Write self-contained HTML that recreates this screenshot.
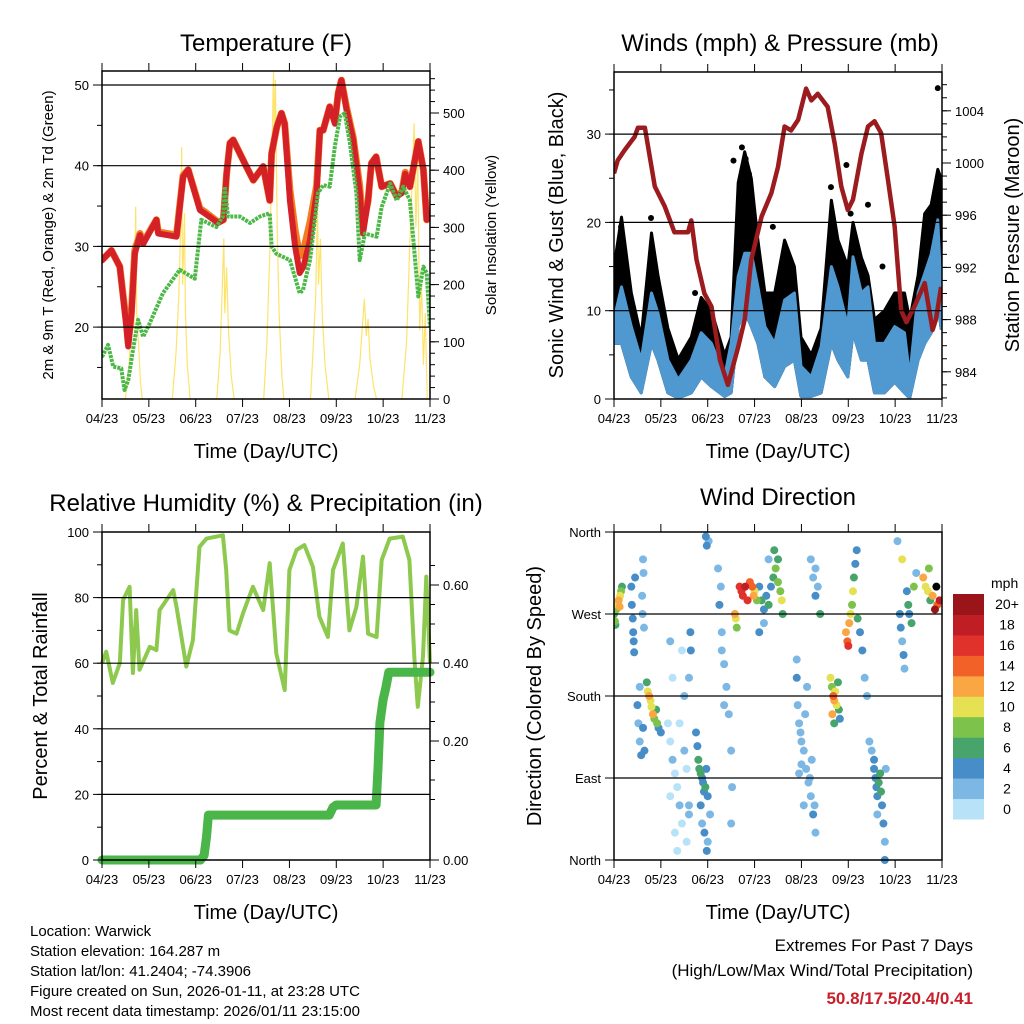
<!DOCTYPE html>
<html><head><meta charset="utf-8">
<style>
html,body{margin:0;padding:0;background:#fff;}
svg{display:block;font-family:"Liberation Sans",Arial,sans-serif;}
</style></head>
<body>
<svg id="chart" width="1024" height="1024" viewBox="0 0 1024 1024" xmlns="http://www.w3.org/2000/svg">
<rect x="0" y="0" width="1024" height="1024" fill="#fff"/>
<text x="266" y="51" font-size="24" text-anchor="middle">Temperature (F)</text>
<text x="780" y="51" font-size="24" text-anchor="middle">Winds (mph) &amp; Pressure (mb)</text>
<text x="266" y="511" font-size="24" text-anchor="middle">Relative Humidity (%) &amp; Precipitation (in)</text>
<text x="778" y="505" font-size="24" text-anchor="middle">Wind Direction</text>
<text x="266" y="458" font-size="20" text-anchor="middle">Time (Day/UTC)</text>
<text x="778" y="458" font-size="20" text-anchor="middle">Time (Day/UTC)</text>
<text x="266" y="919" font-size="20" text-anchor="middle">Time (Day/UTC)</text>
<text x="778" y="919" font-size="20" text-anchor="middle">Time (Day/UTC)</text>
<text transform="translate(53,235) rotate(-90)" font-size="15" text-anchor="middle">2m &amp; 9m T (Red, Orange) &amp; 2m Td (Green)</text>
<text transform="translate(496,235) rotate(-90)" font-size="15" text-anchor="middle">Solar Insolation (Yellow)</text>
<text transform="translate(563,235) rotate(-90)" font-size="20" text-anchor="middle">Sonic Wind &amp; Gust (Blue, Black)</text>
<text transform="translate(1019,235) rotate(-90)" font-size="20" text-anchor="middle">Station Pressure (Maroon)</text>
<text transform="translate(47,696) rotate(-90)" font-size="20" text-anchor="middle">Percent &amp; Total Rainfall</text>
<text transform="translate(541,696) rotate(-90)" font-size="20" text-anchor="middle">Direction (Colored By Speed)</text>
<g font-size="15">
<text x="30" y="936">Location: Warwick</text>
<text x="30" y="956">Station elevation: 164.287 m</text>
<text x="30" y="976">Station lat/lon: 41.2404; -74.3906</text>
<text x="30" y="996">Figure created on Sun, 2026-01-11, at 23:28 UTC</text>
<text x="30" y="1016">Most recent data timestamp: 2026/01/11 23:15:00</text>
</g>
<g text-anchor="end">
<text x="973" y="951" font-size="17">Extremes For Past 7 Days</text>
<text x="973" y="976" font-size="17">(High/Low/Max Wind/Total Precipitation)</text>
<text x="973" y="1004" font-size="17" font-weight="bold" fill="#c8202b">50.8/17.5/20.4/0.41</text>
</g>
<g id="layer"></g>
</svg>
<script>
// ---- data ----
const xTickLabels = ["04/23","05/23","06/23","07/23","08/23","09/23","10/23","11/23"];
const tempDays = [0,0.2,0.38,0.52,0.56,0.63,0.7,0.81,0.88,1.16,1.2,1.59,1.73,1.84,2.09,2.19,2.48,2.59,2.66,2.73,2.8,3.08,3.23,3.44,3.58,3.62,3.73,3.83,3.9,4.01,4.12,4.22,4.3,4.44,4.58,4.65,4.72,4.86,4.97,5.04,5.11,5.22,5.36,5.5,5.57,5.68,5.75,5.85,5.97,6.15,6.29,6.4,6.47,6.57,6.75,6.86,6.93,7];
const tempRed = [28.3,29.5,27.5,20,17.6,21.7,29.1,31.4,30.3,33.3,31.6,31.2,38.6,39.5,34.5,34.1,32.9,33.3,39,42.8,43.2,39.9,38.2,39.9,35.7,41.5,44.8,46.5,45.2,35.7,30,26.7,27.5,30.8,36.6,44.4,44.4,47.3,45.2,49,50.6,46.9,43.2,36.6,31.6,35.7,40.3,41.1,37.4,37.8,36.2,36.6,39,37.4,43,39.5,33.3,34.1];
const tempOrange = [28.3,29.5,27.5,20.5,18,22,29.5,31.6,30.5,33.3,31.8,31.4,38.8,39.5,34.7,34.3,33,33.3,39,42.8,43.2,39.9,38.2,39.9,35.7,41.5,44.8,46.5,45.2,37,32,28.8,29.5,33,37.5,44.4,44.4,47.3,45.5,49,50.6,47.2,43.5,37.5,32.5,35.7,40.3,41.1,37.4,37.8,36.2,36.8,39.2,37.4,43,39.5,33.3,34.1];
const dewDays = [0,0.13,0.24,0.41,0.48,0.56,0.66,0.77,0.88,1.02,1.3,1.66,1.98,2.12,2.44,2.58,2.62,2.69,2.94,3.16,3.37,3.58,3.62,3.72,4.01,4.22,4.29,4.44,4.61,4.72,4.86,4.97,5.08,5.18,5.29,5.43,5.5,5.61,5.86,5.97,6.15,6.29,6.43,6.57,6.75,6.86,6.93,7];
const dewPoint = [16.3,17.8,15.1,14.9,12.2,13.4,17.1,20.9,18.8,20.5,24.2,27.1,26,33.3,32.4,33.7,37.4,33.7,33.7,32.9,33.7,34.1,30,29.1,28.3,24.2,24.6,28.3,36.6,37.6,37.4,42.4,46.1,46.5,42.8,36.6,28.3,31.6,31.2,34.9,37.8,35.7,37.4,35.7,23.8,27.5,26.7,20];
const solarDays = [0,0.5,0.58,0.62,0.66,0.68,0.7,0.72,0.74,0.78,0.82,0.86,1.5,1.58,1.64,1.68,1.7,1.72,1.76,1.78,1.82,1.88,2.45,2.52,2.56,2.6,2.62,2.66,2.7,2.76,2.82,3.45,3.52,3.58,3.62,3.66,3.68,3.7,3.74,3.78,3.84,3.88,4.45,4.5,4.56,4.6,4.62,4.66,4.7,4.76,4.84,5.4,5.5,5.56,5.6,5.64,5.68,5.72,5.8,5.86,6.4,6.5,6.56,6.62,6.66,6.7,6.74,6.78,6.82,6.86,6.9,6.94,7];
const solarVals = [0,0,60,150,272,120,200,336,150,100,30,0,0,80,180,300,440,200,325,150,60,0,0,80,180,281,150,230,120,40,0,0,100,250,400,572,450,558,300,150,40,0,0,80,180,336,200,280,150,60,0,0,60,130,175,110,140,70,20,0,0,100,250,380,482,300,420,120,200,60,150,0,0];
const tempTicks = [20,30,40,50];
const solarTicks = [0,100,200,300,400,500];

const windDays = [0,0.16,0.37,0.58,0.8,0.94,1.15,1.37,1.65,1.86,2.08,2.36,2.5,2.65,2.79,2.93,3.07,3.22,3.43,3.64,3.85,3.99,4.21,4.42,4.64,4.78,4.99,5.1,5.28,5.42,5.56,5.77,5.99,6.2,6.31,6.49,6.63,6.77,6.91,6.98];
const windTop = [9,12.7,8.2,4.4,12,9.7,4.4,2.2,4.4,7.5,6.3,2.5,6.3,13.9,16.5,16.5,12.7,8.2,6.3,11.2,12,3.7,2.5,5.9,15,12.7,8.2,16.1,12,12.7,6.3,6.3,8.2,7.5,2.5,12,14.2,16.4,20.3,12];
const windBottom = [6.3,6.3,2.5,0.7,6.3,4.4,0.7,0.1,0.7,2.5,1.4,0.3,0.7,8.2,10,8.2,6.3,2.5,1.4,3.7,4.4,0.3,0.3,0.7,6.3,4.4,2.5,7.5,4.4,4.4,0.7,0.7,1.9,0.7,0.1,4.4,6.3,7.5,11.2,8];
const gustTop = [15,20.6,12,7,18.8,14,8,4.5,7,11.5,10,5,7,24.5,28,25,18,12,12,18,15,7,5,8,22.5,18,15,20,16,14,9,10,12,12,9,14,21,22,26,25];
const gustOutlierDays = [0.15,0.79,1.73,2.55,2.73,2.81,2.88,3.39,4.63,4.96,5.05,5.42,5.73,6.2,6.72,6.91,6.93];
const gustOutliers = [19.5,20.5,12,27,28.5,27.2,25.5,19.5,24,26.5,21,22,15,10.5,20,35.2,24];
const pressDays = [0,0.08,0.23,0.44,0.51,0.66,0.87,1.08,1.29,1.58,1.65,1.76,1.93,2.08,2.26,2.43,2.65,2.79,2.93,3.15,3.36,3.5,3.64,3.78,3.93,4.1,4.21,4.35,4.56,4.71,4.85,4.99,5.1,5.28,5.42,5.56,5.7,5.84,5.99,6.13,6.24,6.41,6.63,6.8,6.87,6.98];
const pressVals = [999.2,1000.2,1001,1002,1002.7,1002.7,998.2,996.7,994.7,994.7,995.6,992.6,990,989,984.9,983,985.9,988,992.6,995.9,997.7,999.7,1002.8,1002.5,1003.3,1005.7,1004.8,1005.3,1004.3,1001.5,998.2,996.4,997.2,1000.7,1002.8,1003.2,1002.3,998.9,995.1,988.7,987.8,989,990.8,987.2,988,990.5];
const windTicks = [0,10,20,30];
const pressTicks = [984,988,992,996,1000,1004];

const rhDays = [0,0.09,0.23,0.38,0.45,0.59,0.66,0.73,0.8,1.02,1.16,1.23,1.52,1.59,1.8,1.94,2.08,2.23,2.58,2.65,2.72,2.87,3.01,3.22,3.44,3.58,3.72,3.9,4,4.15,4.32,4.5,4.64,4.82,4.93,5.14,5.28,5.43,5.57,5.68,5.86,5.97,6.14,6.42,6.56,6.67,6.74,6.85,6.92,7];
const rhVals = [60,63.5,54,60,79.3,83.3,57,76.2,58,65,64,76.2,82.3,77.2,59,67,95.5,98,99,88.4,70,69,75.2,83.3,76.2,90.5,63,51.8,88.4,94.5,96,89.4,74.2,68,88.4,96.5,70,77.2,92.5,69,68,91.5,98,98.6,91.5,61,46.7,62,86.4,60];
const precipDays = [0,2.1,2.18,2.23,2.27,4.85,4.93,5.0,5.85,5.89,5.93,6.0,6.06,6.12,7];
const precipVals = [0,0,0.01,0.05,0.098,0.098,0.115,0.12,0.12,0.2,0.3,0.35,0.378,0.41,0.41];
const rhTicks = [0,20,40,60,80,100];
const precipTickLabels = ["0.00","0.20","0.40","0.60"];
const precipTickVals = [0,0.2,0.4,0.6];

const dirDays = [0,0.02,0.05,0.08,0.1,0.13,0.15,0.17,0.03,0.12,0.37,0.38,0.4,0.41,0.42,0.43,0.45,0.62,0.63,0.6,0.61,0.64,0.7,0.72,0.75,0.78,0.8,0.83,0.86,0.9,0.92,0.95,1,0.55,0.5,0.52,0.55,0.58,0.62,0.65,1.15,1.2,1.25,1.3,1.35,1.4,1.45,1.5,1.55,1.6,1.2,1.3,1.4,1.5,1.25,1.2,1.45,1.6,1.55,1.35,1.63,1.64,1.6,1.75,1.78,1.8,1.82,1.85,1.88,1.9,1.92,1.95,1.97,2,1.85,1.88,1.93,2,2.05,1.98,1.96,1.98,2.02,2.25,2.28,2.3,2.3,2.35,2.4,2.45,2.5,2.52,2.5,2.35,2.22,2.58,2.6,2.62,2.68,2.72,2.75,2.8,2.85,2.9,2.95,2.98,3,3.05,3.1,3.15,3.2,3.25,3.3,3.35,3.4,3.45,3.5,3.55,3.58,3.5,3.6,3.3,3.42,3.2,3.1,3.9,3.9,3.92,3.95,3.98,4,4.05,4.1,4.15,4.2,4.25,4.3,4,4.08,4.12,4.18,4.22,4.28,4.05,3.95,4.2,4.25,4.3,4.35,4.4,4.3,4.62,4.65,4.68,4.7,4.72,4.75,4.78,4.8,4.82,4.66,4.7,4.95,4.98,5,5.02,5.05,5.08,5.1,5.12,5.15,5.18,5.2,5.25,5.3,5.35,5.4,5.45,5.5,5.55,5.58,5.6,5.62,5.65,5.68,5.7,5.72,5.75,5.78,5.8,5.62,5.55,5.78,6.1,6.12,6.15,6.18,6.2,6.25,6.28,6.3,6.35,6.4,6.45,6.05,6.15,6.6,6.65,6.7,6.72,6.75,6.8,6.85,6.9,6.95,6.88];
const dirVals = [270,262,275,280,285,290,295,300,258,278,300,280,265,250,240,228,310,330,315,290,270,255,195,185,180,175,168,160,155,165,150,145,140,190,170,150,130,115,145,120,150,130,110,95,80,60,40,120,100,50,70,30,150,180,200,240,230,60,20,10,250,230,200,140,125,110,100,95,90,85,75,80,100,70,60,40,30,20,50,10,355,345,350,280,300,250,230,215,190,160,120,80,40,170,320,270,265,255,300,295,290,300,285,305,300,290,295,285,300,285,275,290,280,300,310,320,305,295,285,330,270,330,340,260,250,220,200,170,150,140,130,120,100,85,70,50,30,105,160,190,90,110,60,60,95,330,310,290,300,270,320,200,190,180,175,185,170,195,165,155,160,150,250,240,235,260,270,280,295,310,325,340,265,250,230,200,180,130,120,100,90,80,70,85,95,75,60,40,20,100,50,110,0,270,255,240,225,210,295,280,270,260,300,315,350,330,310,300,295,320,285,290,275,280,285,300];
const dirSpeeds = [7,8,9,10,12,11,8,7,6,12,4,4,4,4,4,4,4,2,2,2,2,2,6,10,12,11,10,12,8,6,8,4,4,2,4,2,2,4,4,4,0,1,2,1,0,2,1,2,0,2,1,0,1,2,1,2,1,2,1,1,4,4,3,4,5,6,6,7,5,4,5,6,4,4,4,3,4,3,3,4,4,4,3,4,3,3,2,3,2,2,2,3,2,3,3,12,10,8,16,17,16,18,16,14,14,12,10,8,4,6,4,5,6,4,6,8,8,9,10,6,7,3,6,3,4,3,4,2,3,2,3,2,2,3,2,4,3,3,2,2,2,2,3,2,2,2,3,4,3,6,2,10,8,14,12,10,10,6,6,4,12,6,12,14,16,12,10,8,10,6,4,4,6,4,4,2,2,2,3,4,4,5,4,6,6,7,4,4,3,3,3,4,4,4,4,3,4,3,4,7,4,6,8,2,2,10,12,11,10,8,6,12,20,14,18];
const dirTickLabels = ["North","East","South","West","North"];
const dirTickVals = [0,90,180,270,360];
const cbarLabels = ["0","2","4","6","8","10","12","14","16","18","20+"];
const cbarColors = ["#b8e2f8","#7db8e4","#478dc7","#47a56c","#7dc24b","#e6e053","#f9a643","#f26228","#e0312a","#bf1e25","#9a1419"];

// ---- rendering ----
const NS = "http://www.w3.org/2000/svg";
const layer = document.getElementById("layer");
function mk(tag, attrs, parent) {
  const el = document.createElementNS(NS, tag);
  for (const k in attrs) el.setAttribute(k, attrs[k]);
  (parent || layer).appendChild(el);
  return el;
}
const P1 = {L:102,R:430,T:71,B:399}, P2 = {L:614,R:942,T:72,B:399}, P3 = {L:102,R:430,T:532,B:860}, P4 = {L:614,R:942,T:532,B:860};
const xs = P => d => P.L + d * (P.R - P.L) / 7;
const tY = v => 85 + (50 - v) * 8.07;
const sY = v => 399 - v * 0.572;
const wY = v => 399 - v * 8.83;
const pY = v => 163 - (v - 1000) * 13.05;
const rhY = v => 860 - v * 3.28;
const prY = v => 860 - v * 458;
const prTickY = v => v === 0 ? 860 : 819 - v * 390;
const dY = v => 860 - v * 328 / 360;

function pts(days, vals, X, Y) { return days.map((d,i) => X(d).toFixed(1) + "," + Y(vals[i]).toFixed(1)).join(" "); }

function frame(P, name, leftTicks, leftY, leftLabels, minorLeft, rightTicks, rightY, rightLabels, minorRight) {
  const g = mk("g", {});
  
  
  const X = xs(P);
  leftTicks.forEach(v => { const y = leftY(v); if (y > P.T + 2 && y < P.B - 2) mk("line", {x1:P.L, x2:P.R, y1:y, y2:y, stroke:"#000", "stroke-width":1.2}, g); });
  for (let i = 0; i <= 7; i++) {
    const x = X(i);
    mk("line", {x1:x, x2:x, y1:P.B, y2:P.B + 8, stroke:"#000", "stroke-width":1}, g);
    mk("line", {x1:x, x2:x, y1:P.T, y2:P.T - 8, stroke:"#000", "stroke-width":1}, g);
    const t = mk("text", {x:x, y:P.B + 24, "font-size":13, "text-anchor":"middle"}, g);
    t.textContent = xTickLabels[i];
  }
  leftTicks.forEach((v,i) => {
    const y = leftY(v);
    mk("line", {x1:P.L - 9, x2:P.L, y1:y, y2:y, stroke:"#000", "stroke-width":1}, g);
    const t = mk("text", {x:P.L - 13, y:y + 5, "font-size":13, "text-anchor":"end"}, g);
    t.textContent = leftLabels[i];
  });
  minorLeft.forEach(v => { const y = leftY(v); if (y >= P.T && y <= P.B) mk("line", {x1:P.L - 5, x2:P.L, y1:y, y2:y, stroke:"#000", "stroke-width":1}, g); });
  if (rightTicks) {
    rightTicks.forEach((v,i) => {
      const y = rightY(v);
      mk("line", {x1:P.R, x2:P.R + 9, y1:y, y2:y, stroke:"#000", "stroke-width":1}, g);
      const t = mk("text", {x:P.R + 13, y:y + 5, "font-size":13}, g);
      t.textContent = rightLabels[i];
    });
    minorRight.forEach(v => { const y = rightY(v); if (y >= P.T && y <= P.B) mk("line", {x1:P.R, x2:P.R + 5, y1:y, y2:y, stroke:"#000", "stroke-width":1}, g); });
  }
  mk("rect", {x:P.L, y:P.T, width:P.R - P.L, height:P.B - P.T, fill:"none", stroke:"#000", "stroke-width":1.5}, g);
}
function range(a,b,s){const r=[];for(let v=a;v<=b+1e-9;v+=s)r.push(+v.toFixed(3));return r;}

// Panel 1
const cp1 = mk("clipPath", {id:"c1"}); mk("rect", {x:P1.L, y:P1.T, width:P1.R-P1.L, height:P1.B-P1.T}, cp1);
const g1 = mk("g", {"clip-path":"url(#c1)"});


const X1 = xs(P1);
const solar = mk("polyline", {points: pts(solarDays, solarVals, X1, sY), fill:"none", stroke:"#fde36b", "stroke-width":1.2}, g1);


const orange = mk("polyline", {points: pts(tempDays, tempOrange, X1, tY), fill:"none", stroke:"#f47c20", "stroke-width":7, "stroke-linejoin":"round", "stroke-linecap":"round"}, g1);


const red = mk("polyline", {points: pts(tempDays, tempRed, X1, tY), fill:"none", stroke:"#d42027", "stroke-width":6, "stroke-linejoin":"round", "stroke-linecap":"round"}, g1);


const dew = mk("polyline", {points: pts(dewDays, dewPoint, X1, tY), fill:"none", stroke:"#4cb848", "stroke-width":4, "stroke-dasharray":"3 1", "stroke-linejoin":"round"}, g1);


frame(P1, "temperature", tempTicks, tY, tempTicks.map(String), range(15,50,5), solarTicks, sY, solarTicks.map(String), range(0,560,20));

// Panel 2
const cp2 = mk("clipPath", {id:"c2"}); mk("rect", {x:P2.L, y:P2.T, width:P2.R-P2.L, height:P2.B-P2.T}, cp2);
const g2 = mk("g", {"clip-path":"url(#c2)"});


const X2 = xs(P2);
const gustBand = mk("polygon", {points: pts(windDays, gustTop, X2, wY) + " " + pts(windDays.slice().reverse(), windBottom.slice().reverse(), X2, wY), fill:"#000", stroke:"#000", "stroke-width":3, "stroke-linejoin":"round"}, g2);


gustOutlierDays.forEach((d,i) => {
  const c = mk("circle", {cx:X2(d), cy:wY(gustOutliers[i]), r:3, fill:"#000"}, g2);
  
  
});
const windBand = mk("polygon", {points: pts(windDays, windTop, X2, wY) + " " + pts(windDays.slice().reverse(), windBottom.slice().reverse(), X2, wY), fill:"#4f98d0", stroke:"#4f98d0", "stroke-width":3, "stroke-linejoin":"round"}, g2);


const press = mk("polyline", {points: pts(pressDays, pressVals, X2, pY), fill:"none", stroke:"#9b1b1e", "stroke-width":4.5, "stroke-linejoin":"round"}, g2);


frame(P2, "winds", windTicks, wY, windTicks.map(String), range(0,35,5), pressTicks, pY, pressTicks.map(String), range(982,1006,1));

// Panel 3
const cp3 = mk("clipPath", {id:"c3"}); mk("rect", {x:P3.L-8, y:P3.T, width:P3.R-P3.L+16, height:P3.B-P3.T+8}, cp3);
const g3 = mk("g", {"clip-path":"url(#c3)"});


const X3 = xs(P3);
const rh = mk("polyline", {points: pts(rhDays, rhVals, X3, rhY), fill:"none", stroke:"#8dc94e", "stroke-width":4, "stroke-linejoin":"round"}, g3);


const pr = mk("polyline", {points: pts(precipDays, precipVals, X3, prY), fill:"none", stroke:"#4ab548", "stroke-width":9, "stroke-linejoin":"round", "stroke-linecap":"round"}, g3);


frame(P3, "humidity", rhTicks, rhY, rhTicks.map(String), range(0,100,10), precipTickVals, prTickY, precipTickLabels, range(0.05,0.65,0.05));

// Panel 4
const cp4 = mk("clipPath", {id:"c4"}); mk("rect", {x:P4.L, y:P4.T-4, width:P4.R-P4.L, height:P4.B-P4.T+8}, cp4);
const g4 = mk("g", {"clip-path":"url(#c4)"});


const X4 = xs(P4);
const order = dirDays.map((d,i) => i).sort((a,b) => dirSpeeds[a] - dirSpeeds[b]);
order.forEach(i => {
  const idx = Math.min(10, Math.floor(dirSpeeds[i] / 2));
  const c = mk("circle", {cx:X4(dirDays[i]), cy:dY(dirVals[i]), r:4, fill:cbarColors[idx]}, g4);
  
  
});
frame(P4, "direction", dirTickVals, dY, dirTickLabels, [], null);

// Colorbar
const cb = mk("g", {});


const cbTop = 594, cbH = 225 / 11;
const mph = mk("text", {x:991, y:588, "font-size":14}, cb);
mph.textContent = "mph";
cbarColors.forEach((col,i) => {
  const y = cbTop + (10 - i) * cbH;
  const r = mk("rect", {x:953, y:y, width:31, height:cbH + 0.5, fill:col}, cb);
  
  
  const t = mk("text", {x:1007, y:y + cbH/2 + 5, "font-size":14, "text-anchor":"middle"}, cb);
  t.textContent = cbarLabels[i];
});
</script>
</body></html>
